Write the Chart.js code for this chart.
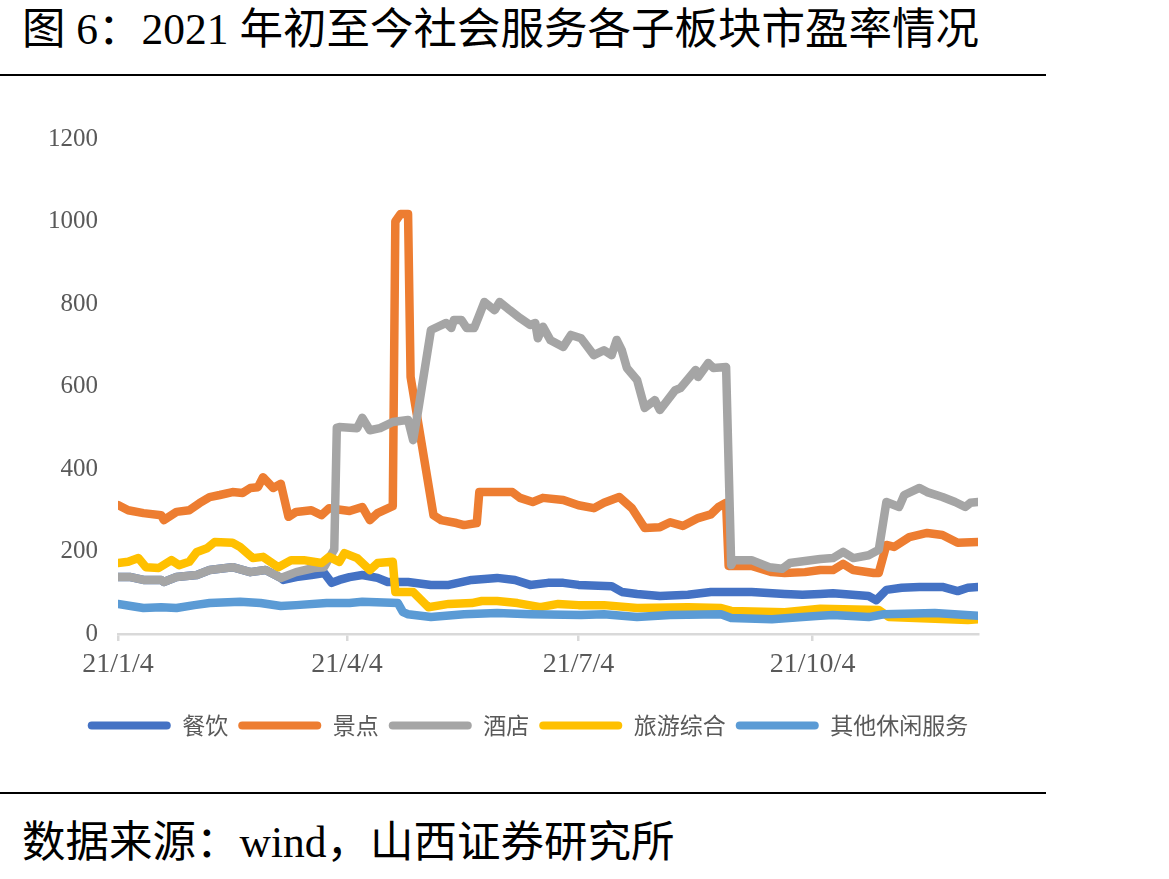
<!DOCTYPE html>
<html>
<head>
<meta charset="utf-8">
<script src="https://cdn.jsdelivr.net/npm/chart.js@4.4.1/dist/chart.umd.min.js"></script>
<style>
  body { margin: 0; background: #fff; width: 1169px; height: 879px; position: relative; overflow: hidden; }
  .title { position: absolute; left: 22px; top: 5px; font: 43.5px/48px "Liberation Serif", "Noto Sans CJK SC"; color: #000; white-space: nowrap; }
  .source { position: absolute; left: 22px; top: 818px; font: 43.5px/48px "Liberation Serif", "Noto Sans CJK SC"; color: #000; white-space: nowrap; }
  .rule { position: absolute; left: 0; width: 1046px; height: 2px; background: #000; }
  #chart { position: absolute; left: 0; top: 90px; }
</style>
</head>
<body>
<div class="title">图 6：2021 年初至今社会服务各子板块市盈率情况</div>
<div class="rule" style="top:74px"></div>
<canvas id="chart" width="1046" height="690"></canvas>
<div class="rule" style="top:792px"></div>
<div class="source">数据来源：wind，山西证券研究所</div>
<script>
// days counted from 2021-01-04
const tickDays = [0, 90, 181, 273];
const tickLabels = ['21/1/4', '21/4/4', '21/7/4', '21/10/4'];
const seriesNames = ['餐饮', '景点', '酒店', '旅游综合', '其他休闲服务'];
const colors = ['#4472C4', '#ED7D31', '#A5A5A5', '#FFC000', '#5B9BD5'];

const restaurantDays = [0, 5, 10, 17, 18, 23, 31, 36, 45, 52, 58, 64, 65, 70, 76, 81, 84, 87, 91, 96, 102, 106, 114, 123, 130, 139, 149, 156, 162, 169, 175, 181, 194, 198, 204, 213, 224, 233, 249, 262, 269, 276, 281, 295, 298, 302, 308, 315, 324, 330, 334, 338];
const restaurantPE = [138, 138, 131, 131, 126, 138, 143, 155, 162, 150, 155, 136, 131, 138, 143, 148, 124, 131, 138, 143, 136, 126, 126, 119, 119, 131, 136, 131, 119, 124, 124, 119, 116, 102, 97, 92, 95, 102, 102, 97, 95, 97, 99, 92, 82, 107, 112, 114, 114, 104, 112, 114];

const scenicDays = [0, 4, 10, 17, 18, 23, 28, 32, 36, 40, 45, 49, 52, 55, 57, 61, 64, 67, 70, 76, 80, 83, 91, 96, 99, 102, 108, 109, 111, 114, 115, 124, 127, 133, 136, 141, 142, 148, 155, 158, 163, 167, 175, 181, 187, 191, 197, 202, 207, 213, 217, 222, 228, 233, 236, 239, 240, 249, 257, 262, 270, 276, 281, 285, 289, 297, 299, 302, 305, 311, 318, 324, 330, 338];
const scenicPE = [313, 300, 293, 288, 276, 296, 300, 317, 332, 337, 344, 342, 354, 356, 380, 354, 364, 284, 296, 300, 288, 305, 298, 308, 276, 293, 310, 1000, 1018, 1018, 623, 288, 276, 269, 264, 269, 344, 344, 344, 330, 320, 330, 325, 312, 305, 318, 332, 305, 257, 259, 271, 262, 281, 290, 308, 318, 165, 165, 150, 148, 150, 155, 155, 170, 155, 148, 148, 216, 211, 235, 245, 240, 221, 223];

const hotelDays = [0, 5, 10, 17, 18, 23, 31, 36, 45, 52, 58, 64, 70, 77, 81, 85, 86, 87, 94, 96, 99, 103, 108, 114, 116, 118, 123, 129, 131, 132, 135, 137, 140, 142, 144, 148, 150, 154, 158, 162, 164, 165, 167, 170, 175, 178, 182, 187, 191, 194, 196, 198, 200, 204, 207, 211, 213, 219, 221, 227, 228, 232, 234, 239, 241, 242, 249, 256, 261, 264, 270, 276, 281, 285, 289, 295, 299, 302, 307, 309, 315, 318, 324, 329, 333, 335, 338];
const hotelPE = [138, 138, 131, 131, 126, 138, 143, 155, 162, 150, 155, 136, 150, 160, 162, 205, 500, 502, 499, 524, 494, 499, 514, 519, 470, 543, 737, 754, 742, 761, 761, 742, 742, 773, 805, 785, 805, 785, 766, 749, 754, 717, 745, 712, 696, 725, 717, 676, 688, 676, 713, 688, 645, 616, 548, 567, 543, 591, 596, 640, 623, 657, 645, 647, 167, 179, 179, 162, 158, 172, 177, 182, 184, 199, 184, 191, 204, 320, 308, 337, 354, 344, 332, 320, 308, 318, 320];

const tourismDays = [0, 4, 8, 11, 16, 21, 24, 28, 31, 35, 38, 45, 48, 53, 57, 63, 68, 73, 80, 83, 87, 89, 94, 99, 102, 108, 109, 116, 122, 130, 139, 143, 149, 157, 166, 173, 181, 191, 204, 224, 237, 241, 262, 276, 299, 303, 334, 338];
const tourismPE = [172, 175, 184, 162, 160, 179, 167, 175, 199, 208, 223, 221, 211, 184, 187, 162, 179, 179, 172, 187, 175, 196, 184, 155, 172, 175, 102, 102, 65, 73, 75, 80, 80, 75, 65, 73, 70, 70, 63, 65, 63, 56, 53, 61, 58, 41, 34, 36];

const otherDays = [0, 5, 10, 17, 23, 30, 36, 48, 56, 64, 70, 82, 91, 96, 110, 112, 114, 123, 136, 149, 162, 182, 191, 204, 217, 237, 241, 257, 269, 276, 281, 295, 301, 321, 338];
const otherPE = [73, 68, 63, 65, 63, 70, 75, 78, 75, 68, 70, 75, 75, 78, 75, 53, 48, 41, 48, 51, 48, 46, 48, 41, 46, 48, 39, 36, 41, 44, 46, 41, 48, 51, 44];

const dayLists = [restaurantDays, scenicDays, hotelDays, tourismDays, otherDays];
const valueLists = [restaurantPE, scenicPE, hotelPE, tourismPE, otherPE];

const datasets = seriesNames.map((name, i) => ({
  label: name,
  data: dayLists[i].map((d, j) => ({ x: d, y: valueLists[i][j] })),
  borderColor: colors[i],
  backgroundColor: colors[i],
  borderWidth: 8.5,
  pointRadius: 0,
  tension: 0,
  borderJoinStyle: 'round',
  borderCapStyle: 'round',
  order: seriesNames.length - i   // later series drawn on top, like the original
}));

// the legend in the original sits a bit right of the canvas centre
const legendShift = {
  id: 'legendShift',
  afterLayout(chart) {
    chart.legend.left += 39;
    chart.legend.right += 39;
  }
};

const config = {
  type: 'line',
  data: { datasets: datasets },
  options: {
    responsive: false,
    animation: false,
    layout: { padding: { top: 49, left: 0, right: 68, bottom: 33 } },
    scales: {
      x: {
        type: 'linear',
        min: 0,
        max: 338,
        afterBuildTicks: scale => { scale.ticks = tickDays.map(v => ({ value: v })); },
        afterFit: scale => { scale.height = 70; },
        grid: { drawOnChartArea: false, drawTicks: true, tickLength: 7, color: '#d9d9d9', lineWidth: 2.5 },
        border: { display: true, color: '#d9d9d9', width: 2.5 },
        ticks: {
          padding: 7,
          maxRotation: 0,
          autoSkip: false,
          color: '#595959',
          font: { family: 'Liberation Serif', size: 28 },
          callback: (value, index) => tickLabels[index]
        }
      },
      y: {
        min: 0,
        max: 1200,
        afterFit: scale => { scale.width = 118; },
        grid: { display: false },
        border: { display: false },
        ticks: {
          stepSize: 200,
          padding: 12,
          color: '#595959',
          font: { family: 'Liberation Serif', size: 25 },
          callback: value => String(value)
        }
      }
    },
    plugins: {
      tooltip: { enabled: false },
      legend: {
        position: 'bottom',
        labels: {
          boxWidth: 83,
          boxHeight: 8,
          padding: 10,
          useBorderRadius: true,
          borderRadius: 4,
          color: '#595959',
          font: { family: 'Noto Sans CJK SC', size: 23 },
          sort: (a, b) => a.datasetIndex - b.datasetIndex,
          generateLabels: chart => Chart.defaults.plugins.legend.labels.generateLabels(chart)
            .map(item => Object.assign(item, { lineWidth: 0 }))
        }
      }
    }
  },
  plugins: [legendShift]
};

const myChart = new Chart(document.getElementById('chart'), config);
</script>
</body>
</html>
